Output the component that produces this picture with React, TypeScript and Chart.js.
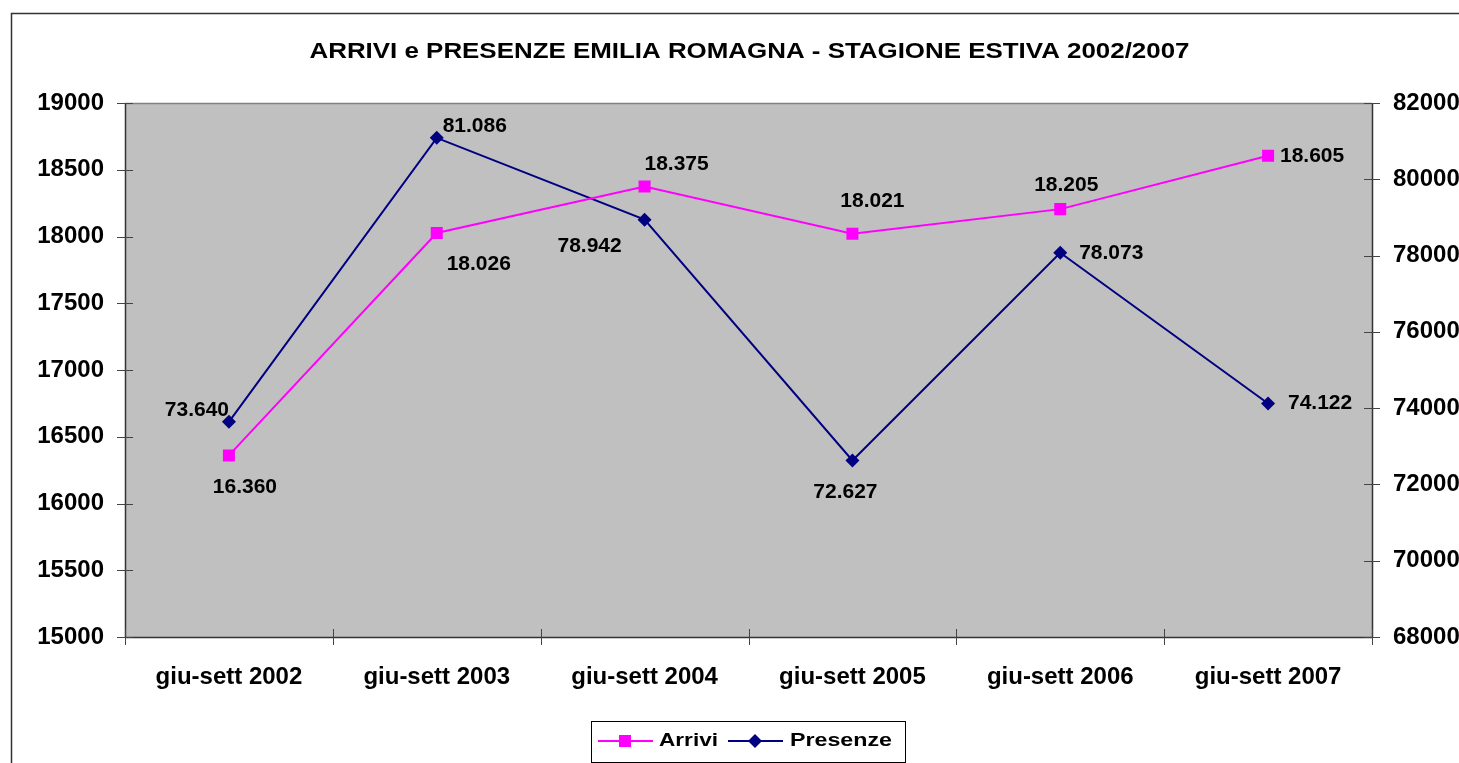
import React, { useEffect, useRef } from "react";
import { Chart, registerables } from "chart.js";

Chart.register(...registerables);

const TITLE = "ARRIVI e PRESENZE EMILIA ROMAGNA - STAGIONE ESTIVA 2002/2007";
const categories = ["giu-sett 2002", "giu-sett 2003", "giu-sett 2004", "giu-sett 2005", "giu-sett 2006", "giu-sett 2007"];
const arrivi = [16360, 18026, 18375, 18021, 18205, 18605];
const presenze = [73640, 81086, 78942, 72627, 78073, 74122];

const leftMin = 15000;
const leftMax = 19000;
const leftStep = 500;
const rightMin = 68000;
const rightMax = 82000;
const rightStep = 2000;

// label placement (offset from the point, px)
const arriviLabelOffsets = [[16, 32], [42, 31], [32, -22], [20, -32], [6, -24], [44, 0]];
const presenzeLabelOffsets = [[-32, -12], [38, -12], [-55, 27], [-7, 32], [51, 0], [52, 0]];

const FONT = "'Liberation Sans', Arial, sans-serif";
const MAGENTA = "#FF00FF";
const NAVY = "#000080";

const fmt = (v: number) => {
  const s = String(Math.round(v));
  return s.replace(/\B(?=(\d{3})+(?!\d))/g, ".");
};

// draws text stretched horizontally to a given width (the original's text is widened)
function drawStretched(ctx: CanvasRenderingContext2D, text: string, x: number, y: number, targetW: number, align: "left" | "center") {
  const w = ctx.measureText(text).width;
  const sx = targetW / w;
  ctx.save();
  ctx.textAlign = "left";
  const startX = align === "center" ? x - targetW / 2 : x;
  ctx.translate(startX, y);
  ctx.scale(sx, 1);
  ctx.fillText(text, 0, 0);
  ctx.restore();
}

const decorPlugin = {
  id: "decor",
  beforeDraw(chart: any) {
    const { ctx, chartArea: a, width, height } = chart;
    ctx.save();
    ctx.fillStyle = "#ffffff";
    ctx.fillRect(0, 0, width, height);
    ctx.fillStyle = "#C0C0C0";
    ctx.fillRect(a.left, a.top, a.right - a.left, a.bottom - a.top);
    ctx.restore();
  },
  beforeDatasetsDraw(chart: any) {
    const { ctx, chartArea: a, scales } = chart;
    ctx.save();
    ctx.lineWidth = 1.5;
    ctx.strokeStyle = "#808080";
    ctx.beginPath();
    ctx.moveTo(a.left, a.top + 0.5);
    ctx.lineTo(a.right, a.top + 0.5);
    ctx.stroke();
    ctx.strokeStyle = "#333333";
    ctx.beginPath();
    ctx.moveTo(a.left + 0.5, a.top);
    ctx.lineTo(a.left + 0.5, a.bottom);
    ctx.moveTo(a.left, a.bottom + 0.5);
    ctx.lineTo(a.right, a.bottom + 0.5);
    ctx.moveTo(a.right + 0.5, a.top);
    ctx.lineTo(a.right + 0.5, a.bottom);
    ctx.stroke();
    ctx.lineWidth = 1;
    ctx.strokeStyle = "#444444";
    ctx.beginPath();
    const y = scales.y;
    for (let v = leftMin; v <= leftMax; v += leftStep) {
      const py = Math.round(y.getPixelForValue(v)) + 0.5;
      ctx.moveTo(a.left - 8, py);
      ctx.lineTo(a.left + 8, py);
    }
    const y1 = scales.y1;
    for (let v = rightMin; v <= rightMax; v += rightStep) {
      const py = Math.round(y1.getPixelForValue(v)) + 0.5;
      ctx.moveTo(a.right - 8, py);
      ctx.lineTo(a.right + 8, py);
    }
    const n = categories.length;
    const w = (a.right - a.left) / n;
    for (let i = 0; i <= n; i++) {
      const px = Math.round(a.left + i * w) + 0.5;
      ctx.moveTo(px, a.bottom - 8);
      ctx.lineTo(px, a.bottom + 8);
    }
    ctx.stroke();
    ctx.restore();
  },
  afterDatasetsDraw(chart: any) {
    const { ctx } = chart;
    ctx.save();
    ctx.font = `bold 21px ${FONT}`;
    ctx.fillStyle = "#000";
    ctx.textAlign = "center";
    ctx.textBaseline = "middle";
    const sets = [
      { idx: 0, data: arrivi, off: arriviLabelOffsets },
      { idx: 1, data: presenze, off: presenzeLabelOffsets },
    ];
    sets.forEach((s) => {
      const meta = chart.getDatasetMeta(s.idx);
      meta.data.forEach((pt: any, i: number) => {
        ctx.fillText(fmt(s.data[i]), pt.x + s.off[i][0], pt.y + s.off[i][1]);
      });
    });
    ctx.restore();
  },
  afterDraw(chart: any) {
    const { ctx, chartArea: a } = chart;
    ctx.save();
    // title
    ctx.font = `bold 22px ${FONT}`;
    ctx.fillStyle = "#000";
    ctx.textBaseline = "alphabetic";
    drawStretched(ctx, TITLE, (a.left + a.right) / 2 + 1, 57.5, 880, "center");
    // outer border
    ctx.strokeStyle = "#333333";
    ctx.lineWidth = 1.5;
    ctx.strokeRect(11.5, 13.5, 3000, 3000);
    // legend
    const lx = 591, ly = 721, lw = 314, lh = 41;
    ctx.fillStyle = "#fff";
    ctx.fillRect(lx, ly, lw, lh);
    ctx.strokeStyle = "#000";
    ctx.lineWidth = 1;
    ctx.strokeRect(lx + 0.5, ly + 0.5, lw, lh);
    const cy = 741;
    // Arrivi
    ctx.strokeStyle = MAGENTA;
    ctx.lineWidth = 2;
    ctx.beginPath();
    ctx.moveTo(598, cy);
    ctx.lineTo(653, cy);
    ctx.stroke();
    ctx.fillStyle = MAGENTA;
    ctx.fillRect(619, cy - 6, 12, 12);
    // Presenze
    ctx.strokeStyle = NAVY;
    ctx.beginPath();
    ctx.moveTo(728, cy);
    ctx.lineTo(783, cy);
    ctx.stroke();
    ctx.fillStyle = NAVY;
    ctx.beginPath();
    ctx.moveTo(755, cy - 7);
    ctx.lineTo(762, cy);
    ctx.lineTo(755, cy + 7);
    ctx.lineTo(748, cy);
    ctx.closePath();
    ctx.fill();
    ctx.fillStyle = "#000";
    ctx.font = `bold 19px ${FONT}`;
    ctx.textBaseline = "middle";
    drawStretched(ctx, "Arrivi", 659, cy, 59, "left");
    drawStretched(ctx, "Presenze", 790, cy, 102, "left");
    ctx.restore();
  },
};

export default function App() {
  const ref = useRef<HTMLCanvasElement | null>(null);
  useEffect(() => {
    if (!ref.current) return;
    const tickFont = { family: FONT, size: 24, weight: "bold" as const };
    const chart = new Chart(ref.current, {
      type: "line",
      data: {
        labels: categories,
        datasets: [
          {
            label: "Arrivi",
            data: arrivi,
            yAxisID: "y",
            borderColor: MAGENTA,
            backgroundColor: MAGENTA,
            borderWidth: 2,
            pointStyle: "rect",
            pointRadius: 8.5,
            pointBorderWidth: 0,
            tension: 0,
          },
          {
            label: "Presenze",
            data: presenze,
            yAxisID: "y1",
            borderColor: NAVY,
            backgroundColor: NAVY,
            borderWidth: 2,
            pointStyle: "rectRot",
            pointRadius: 7,
            pointBorderWidth: 0,
            tension: 0,
          },
        ],
      },
      options: {
        responsive: false,
        animation: false,
        devicePixelRatio: 1,
        layout: { padding: { top: 103, left: 0, right: 0, bottom: 0 } },
        plugins: {
          legend: { display: false },
          title: { display: false },
          tooltip: { enabled: false },
        },
        scales: {
          x: {
            type: "category",
            offset: true,
            grid: { display: false, drawTicks: false },
            border: { display: false },
            ticks: { font: tickFont, color: "#000", padding: 26, maxRotation: 0, autoSkip: false },
            afterFit: (s: any) => { s.height = 126; },
          },
          y: {
            position: "left",
            min: leftMin,
            max: leftMax,
            grid: { display: false, drawTicks: false },
            border: { display: false },
            ticks: { stepSize: leftStep, font: tickFont, color: "#000", padding: 21, callback: (v: any) => String(v) },
            afterFit: (s: any) => { s.width = 125; },
          },
          y1: {
            position: "right",
            min: rightMin,
            max: rightMax,
            grid: { display: false, drawTicks: false },
            border: { display: false },
            ticks: { stepSize: rightStep, font: tickFont, color: "#000", padding: 21, callback: (v: any) => String(v) },
            afterFit: (s: any) => { s.width = 87; },
          },
        },
      },
      plugins: [decorPlugin],
    });
    return () => chart.destroy();
  }, []);
  return (
    <div style={{ position: "fixed", left: 0, top: 0, width: 1459, height: 763, overflow: "hidden", background: "#fff" }}>
      <canvas ref={ref} width={1459} height={763} style={{ display: "block" }} />
    </div>
  );
}
